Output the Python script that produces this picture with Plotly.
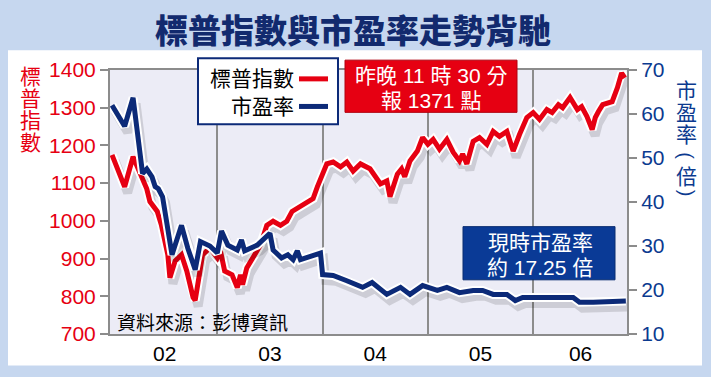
import plotly.graph_objects as go

# ---------------- data ----------------
spx_t = [2002.00, 2002.12, 2002.20, 2002.28, 2002.33, 2002.36, 2002.43, 2002.47, 2002.53, 2002.55,
         2002.60, 2002.66, 2002.71, 2002.77, 2002.79, 2002.84, 2002.86, 2002.93, 2003.00, 2003.03,
         2003.07, 2003.14, 2003.19, 2003.22, 2003.24, 2003.28, 2003.34, 2003.41, 2003.47, 2003.53,
         2003.60, 2003.66, 2003.71, 2003.76, 2003.79, 2003.85, 2003.91, 2003.95, 2004.00, 2004.04,
         2004.10, 2004.17, 2004.23, 2004.29, 2004.36, 2004.45, 2004.55, 2004.61, 2004.64, 2004.67,
         2004.71, 2004.75, 2004.78, 2004.83, 2004.90, 2004.95, 2005.00, 2005.05, 2005.11, 2005.18,
         2005.24, 2005.30, 2005.33, 2005.37, 2005.43, 2005.49, 2005.56, 2005.62, 2005.68, 2005.75,
         2005.81, 2005.87, 2005.94, 2006.00, 2006.06, 2006.13, 2006.18, 2006.24, 2006.28, 2006.35,
         2006.42, 2006.46, 2006.51, 2006.56, 2006.59, 2006.62, 2006.66, 2006.75, 2006.80, 2006.84,
         2006.87]
spx = [1175, 1090, 1170, 1119, 1085, 1051, 1025, 988, 910, 849,
       894, 910, 867, 797, 789, 875, 910, 928, 902, 920,
       867, 857, 823, 857, 831, 875, 902, 936, 988, 999,
       988, 999, 1025, 1033, 1041, 1051, 1059, 1090, 1120, 1151,
       1156, 1143, 1156, 1132, 1151, 1138, 1098, 1106, 1064, 1090,
       1124, 1138, 1117, 1159, 1185, 1221, 1203, 1216, 1190, 1216,
       1182, 1159, 1177, 1151, 1211, 1221, 1203, 1237, 1224, 1237,
       1185, 1229, 1274, 1287, 1269, 1295, 1287, 1308, 1300, 1327,
       1295, 1303, 1277, 1242, 1274, 1290, 1308, 1316, 1353, 1392,
       1379]

pe_t = [2002.00, 2002.12, 2002.20, 2002.27, 2002.29, 2002.33, 2002.38, 2002.41, 2002.44, 2002.48,
        2002.53, 2002.57, 2002.66, 2002.72, 2002.79, 2002.84, 2002.93, 2003.00, 2003.04, 2003.10,
        2003.19, 2003.23, 2003.26, 2003.38, 2003.50, 2003.53, 2003.61, 2003.67, 2003.72, 2003.76,
        2003.79, 2003.98, 2004.00, 2004.10, 2004.23, 2004.38, 2004.47, 2004.61, 2004.74, 2004.83,
        2004.95, 2005.09, 2005.18, 2005.30, 2005.43, 2005.52, 2005.62, 2005.75, 2005.83, 2005.90,
        2006.04, 2006.38, 2006.44, 2006.57, 2006.88]
pe = [62.0, 57.2, 63.7, 48.7, 46.5, 47.5, 45.7, 43.5, 43.0, 41.2,
      34.0, 28.0, 34.7, 29.5, 24.6, 31.0, 30.0, 28.4, 33.4, 30.2,
      29.1, 31.4, 28.9, 30.2, 32.9, 29.1, 27.3, 28.0, 26.9, 28.9,
      26.9, 28.4, 23.5, 23.3, 22.1, 20.6, 21.7, 19.0, 20.6, 19.0,
      21.0, 19.9, 20.6, 19.4, 19.9, 19.9, 19.0, 19.0, 17.6, 18.3,
      18.3, 18.3, 17.2, 17.2, 17.5]

year_ticks = [2002.5, 2003.5, 2004.5, 2005.5, 2006.45]
year_labels = ["02", "03", "04", "05", "06"]
year_bounds = [2003, 2004, 2005, 2006]
left_ticks = [700, 800, 900, 1000, 1100, 1200, 1300, 1400]
right_ticks = [10, 20, 30, 40, 50, 60, 70]

# ---------------- styling ----------------
RED = "#e60012"
NAVY = "#0c2a78"
BLUE_TXT = "#0b3a8f"
BOX_BLUE = "#0a3a96"
GRID = "#8c8c8c"
LIGHT = "#c6d7ef"
PLOTBG = "#ececf6"
CJK = "Liberation Sans, Noto Sans CJK TC, sans-serif"

W, H = 711, 377
L, R, T, B = 110, 84, 70, 39
PW, PH = W - L - R, H - T - B


def px(x):
    return (x - L) / PW


def py(y):
    return (H - B - y) / PH


X_RANGE = [2001.981, 2006.891]
px_per_year = PW / (X_RANGE[1] - X_RANGE[0])
SDX = 3 / px_per_year
SDY_L = -6 * (1400 - 700) / PH
SDY_R = -6 * (70 - 10) / PH

fig = go.Figure()

# S&P 500 (left axis)
fig.add_trace(go.Scatter(x=[t + SDX for t in spx_t], y=[v + SDY_L for v in spx], mode="lines",
                         line=dict(color="rgba(0,0,0,0.13)", width=9), hoverinfo="skip", yaxis="y"))
fig.add_trace(go.Scatter(x=spx_t, y=spx, mode="lines", line=dict(color="white", width=9),
                         hoverinfo="skip", yaxis="y"))
fig.add_trace(go.Scatter(x=spx_t, y=spx, mode="lines", line=dict(color=RED, width=5),
                         name="標普指數", yaxis="y"))

# P/E (right axis)
fig.add_trace(go.Scatter(x=[t + SDX for t in pe_t], y=[v + SDY_R for v in pe], mode="lines",
                         line=dict(color="rgba(0,0,0,0.13)", width=9), hoverinfo="skip", yaxis="y2"))
fig.add_trace(go.Scatter(x=pe_t, y=pe, mode="lines", line=dict(color="white", width=9),
                         hoverinfo="skip", yaxis="y2"))
fig.add_trace(go.Scatter(x=pe_t, y=pe, mode="lines", line=dict(color=NAVY, width=5),
                         name="市盈率", yaxis="y2"))

shapes = [
    # white panel
    dict(type="rect", xref="paper", yref="paper", x0=px(8), x1=px(702), y0=py(370), y1=py(50),
         fillcolor="white", line=dict(width=0), layer="below"),
    # plot background
    dict(type="rect", xref="paper", yref="paper", x0=0, x1=1, y0=0, y1=1,
         fillcolor=PLOTBG, line=dict(width=0), layer="below"),
    # legend box
    dict(type="rect", xref="paper", yref="paper", x0=px(198), x1=px(338), y0=py(125), y1=py(58),
         fillcolor="white", line=dict(color=NAVY, width=2), layer="above"),
    dict(type="line", xref="paper", yref="paper", x0=px(299), x1=px(328), y0=py(79), y1=py(79),
         line=dict(color=RED, width=5), layer="above"),
    dict(type="line", xref="paper", yref="paper", x0=px(299), x1=px(328), y0=py(107), y1=py(107),
         line=dict(color=NAVY, width=5), layer="above"),
    # red note box
    dict(type="rect", xref="paper", yref="paper", x0=px(345), x1=px(517), y0=py(113), y1=py(60),
         fillcolor=RED, line=dict(color="#b0000e", width=1), layer="above"),
    # blue note box
    dict(type="rect", xref="paper", yref="paper", x0=px(463), x1=px(615), y0=py(283), y1=py(229),
         fillcolor=BOX_BLUE, line=dict(color="#082c70", width=1), layer="above"),
]


def label(text, x, y, size, color, family=CJK, xanchor="center", **kw):
    d = dict(text=text, x=px(x), y=py(y), xref="paper", yref="paper", showarrow=False,
             font=dict(family=family, size=size, color=color), xanchor=xanchor, yanchor="middle",
             borderpad=0)
    d.update(kw)
    return d


def vertical(chars, big):
    return "<br>".join(f'<span style="font-size:{big}px">{c}</span>' for c in chars)


ann = [
    dict(text="標普指數與市盈率走勢背馳", x=px(353), y=py(28), xref="paper", yref="paper",
         showarrow=False, font=dict(family="Noto Sans CJK TC", size=33, color="#122a6e", weight=900),
         xanchor="center", yanchor="middle"),
    label("標普指數", 295, 79, 21, "black", xanchor="right"),
    label("市盈率", 295, 107, 21, "black", xanchor="right"),
    label("昨晚 11 時 30 分", 431, 75, 21, "white", height=24),
    label("報 1371 點", 431, 100, 21, "white", height=24),
    label("現時市盈率", 540, 245, 21, "white", height=24),
    label("約 17.25 倍", 540, 270, 21, "white", height=24),
    label("資料來源：彭博資訊", 116, 325, 19, "black", family="Noto Sans CJK TC", xanchor="left"),
    # vertical axis titles
    label(vertical("標普指數", 21), 30, 109, 17, RED, family="Noto Sans CJK TC"),
    label(vertical("市盈率", 21), 686.5, 111.5, 17, BLUE_TXT, family="Noto Sans CJK TC"),
    label("(", 686.5, 157, 20, BLUE_TXT, family="Liberation Sans", textangle=90),
    label("倍", 686.5, 177, 21, BLUE_TXT, family="Noto Sans CJK TC"),
    label(")", 686.5, 195, 20, BLUE_TXT, family="Liberation Sans", textangle=90),
]

fig.update_layout(
    width=W, height=H,
    margin=dict(l=L, r=R, t=T, b=B, pad=0),
    paper_bgcolor=LIGHT,
    plot_bgcolor="rgba(0,0,0,0)",
    showlegend=False,
    shapes=shapes,
    annotations=ann,
    xaxis=dict(range=X_RANGE, tickmode="array", tickvals=year_ticks, ticktext=year_labels,
               ticks="", showgrid=False, zeroline=False,
               showline=True, linecolor=GRID, linewidth=2, mirror=True,
               tickfont=dict(family="Liberation Sans", size=21, color="black"),
               minor=dict(tickmode="array", tickvals=year_bounds, showgrid=True,
                          gridcolor=GRID, gridwidth=2, ticks=""),
               fixedrange=True),
    yaxis=dict(range=[700, 1400], tickmode="array", tickvals=left_ticks,
               ticks="outside", ticklen=8, tickwidth=2, tickcolor=GRID,
               showline=True, linecolor=GRID, linewidth=2, showgrid=False, zeroline=False,
               tickfont=dict(family="Liberation Sans", size=21, color=RED), fixedrange=True),
    yaxis2=dict(range=[10, 70], tickmode="array", tickvals=right_ticks, overlaying="y", side="right",
                ticks="outside", ticklen=8, tickwidth=2, tickcolor=GRID,
                showline=True, linecolor=GRID, linewidth=2, showgrid=False, zeroline=False,
                tickfont=dict(family="Liberation Sans", size=21, color=BLUE_TXT), fixedrange=True),
)

fig.write_html("out.html", config={"displayModeBar": False},
               post_script="document.body.style.margin='0';document.body.style.overflow='hidden';")
